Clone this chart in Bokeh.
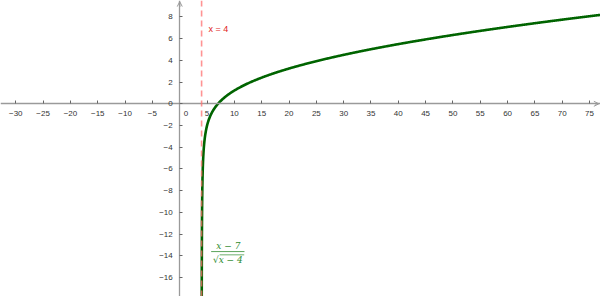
import numpy as np
from bokeh.plotting import figure
from bokeh.models import (Range1d, LinearAxis, SingleIntervalTicker, Span, Label,
                          Arrow, OpenHead, ColumnDataSource)
from bokeh.embed import file_html
from bokeh.resources import INLINE

# ---- data ----
asymptote_x = 4
x_ticks = list(range(-30, 80, 5))
y_ticks = list(range(-16, 10, 2))
x_lo, x_hi = -32.8, 77.0
y_lo, y_hi = -17.76, 9.52
# function f(x) = (x - 7) / sqrt(x - 4), sampled for x > 4
xs = np.concatenate([np.linspace(4.02, 4.5, 200), np.linspace(4.5, 78, 800)])
ys = (xs - 7) / np.sqrt(xs - 4)

p = figure(width=600, height=296, x_range=Range1d(x_lo, x_hi), y_range=Range1d(y_lo, y_hi),
           x_axis_type=None, y_axis_type=None, toolbar_location=None,
           output_backend="svg", min_border=0)
p.outline_line_color = None
p.grid.visible = False
p.background_fill_color = "white"

axis_col = "#9a9a9a"
lab_col = "#333333"

xa = LinearAxis(ticker=SingleIntervalTicker(interval=5), fixed_location=0)
ya = LinearAxis(ticker=SingleIntervalTicker(interval=2), fixed_location=0)
for a in (xa, ya):
    a.axis_line_color = axis_col
    a.axis_line_width = 1.3
    a.major_tick_line_color = "#666666"
    a.major_tick_in = 3
    a.major_tick_out = 0
    a.minor_tick_line_color = None
    a.major_label_text_font = "Liberation Sans"
    a.major_label_text_font_size = "8px"
    a.major_label_text_color = lab_col
    a.major_label_standoff = 3
xa.major_label_overrides = {0: ""}
p.add_layout(xa, "below")
p.add_layout(ya, "left")

p.add_layout(Label(x=0, y=0, x_offset=4, y_offset=-12, text="0", text_font="Liberation Sans",
                   text_font_size="8px", text_color=lab_col))

# axis arrows
p.add_layout(Arrow(end=OpenHead(size=5, line_color=axis_col, line_width=1),
                   x_start=x_hi - 1, y_start=0, x_end=x_hi - 0.3, y_end=0,
                   line_color=axis_col, line_width=1.3))
p.add_layout(Arrow(end=OpenHead(size=5, line_color=axis_col, line_width=1),
                   x_start=0, y_start=y_hi - 0.6, x_end=0, y_end=y_hi - 0.1,
                   line_color=axis_col, line_width=1.3))

# asymptote
p.add_layout(Span(location=asymptote_x, dimension="height", line_color="#ff6f6f",
                  line_alpha=0.75, line_width=1.6, line_dash="6 4"))
p.add_layout(Label(x=5.25, y=6.85, text="x = 4", text_font="Liberation Sans",
                   text_font_size="9px", text_color="#e01b1b", text_baseline="middle"))

# curve
src = ColumnDataSource(dict(x=xs, y=ys))
p.line("x", "y", source=src, line_color="#006400", line_width=2.6)

# formula label
fcol = "#2e8b2e"
p.add_layout(Label(x=8.9, y=-13.1, text="x − 7", text_font="DejaVu Serif",
                   text_font_style="italic", text_font_size="9px", text_color=fcol,
                   text_align="center", text_baseline="middle"))
p.segment(x0=[5.75], y0=[-13.62], x1=[11.85], y1=[-13.62], line_color=fcol, line_width=0.8)
p.add_layout(Label(x=8.8, y=-14.4, text="√x − 4", text_font="DejaVu Serif",
                   text_font_style="italic", text_font_size="9px", text_color=fcol,
                   text_align="center", text_baseline="middle"))
p.segment(x0=[7.3], y0=[-13.92], x1=[11.8], y1=[-13.92], line_color=fcol, line_width=0.7)

open("out.html", "w").write(file_html(p, INLINE))
